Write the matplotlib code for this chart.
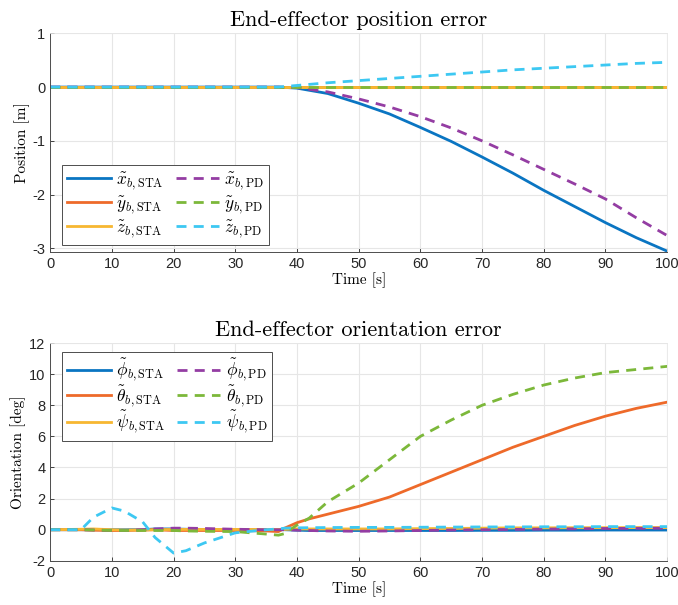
import matplotlib
matplotlib.use("Agg")
import matplotlib.pyplot as plt

# ---------------------------------------------------------
# Data (time in s)
# ---------------------------------------------------------
t_pos = [0, 10, 20, 30, 37, 40, 45, 50, 55, 60, 65, 70, 75, 80, 85, 90, 95, 100]
x_sta = [0, 0, 0, 0, 0, -0.02, -0.12, -0.30, -0.50, -0.75, -1.01, -1.30, -1.60, -1.92, -2.22, -2.52, -2.80, -3.05]
y_sta = [0] * len(t_pos)
z_sta = [0] * len(t_pos)
x_pd = [0, 0, 0, 0, 0, -0.01, -0.09, -0.22, -0.37, -0.55, -0.76, -1.00, -1.26, -1.53, -1.80, -2.08, -2.43, -2.76]
y_pd = [0] * len(t_pos)
z_pd = [0, 0, 0, 0, 0, 0.03, 0.08, 0.12, 0.16, 0.20, 0.24, 0.28, 0.32, 0.35, 0.38, 0.41, 0.44, 0.46]

t_ori = [0, 5, 7, 10, 12, 15, 17, 20, 22, 25, 30, 35, 37, 38, 40, 42, 45, 50, 55, 60,
         65, 70, 75, 80, 85, 90, 95, 100]
phi_sta = [0, 0, 0, 0, 0, 0, 0.05, 0.05, 0.03, 0.02, 0, 0, 0, 0, -0.03, -0.05, -0.05,
           -0.05, -0.05, -0.05, -0.05, -0.04, -0.04, -0.03, -0.03, -0.02, -0.02, -0.02]
theta_sta = [0, 0, -0.03, -0.05, -0.05, -0.02, 0, -0.05, -0.05, -0.05, -0.05, -0.08, -0.12, 0.10,
             0.45, 0.70, 1.00, 1.50, 2.10, 2.90, 3.70, 4.50, 5.30, 6.00, 6.70, 7.30, 7.80, 8.20]
psi_sta = [0, 0.03, 0.05, 0, -0.02, -0.02, 0, 0.02, 0.02, 0.02, 0.02, 0.02, 0.02, 0.02, 0.05,
           0.05, 0.05, 0.05, 0.05, 0.07, 0.08, 0.10, 0.12, 0.12, 0.13, 0.13, 0.14, 0.14]
phi_pd = [0, 0, -0.02, -0.05, -0.05, 0, 0.05, 0.10, 0.10, 0.08, 0.03, 0.0, 0.0, 0.0, -0.03,
          -0.05, -0.08, -0.10, -0.08, -0.05, -0.02, 0.0, 0.02, 0.04, 0.06, 0.08, 0.09, 0.10]
theta_pd = [0, 0, -0.02, -0.05, -0.05, -0.05, -0.05, -0.05, -0.08, -0.10, -0.12, -0.28, -0.35, -0.25,
            0.30, 0.75, 1.80, 3.00, 4.50, 6.00, 7.05, 8.00, 8.70, 9.30, 9.75, 10.10, 10.30, 10.50]
psi_pd = [0, 0, 0.80, 1.40, 1.20, 0.50, -0.50, -1.50, -1.35, -0.85, -0.20, 0.0, 0.05, 0.10,
          0.12, 0.13, 0.14, 0.15, 0.15, 0.16, 0.17, 0.18, 0.18, 0.19, 0.19, 0.20, 0.20, 0.20]

# MATLAB-like colour order (as rendered in the reference)
c_blue, c_orange, c_yellow = "#0A75C2", "#EE6A2A", "#F7B731"
c_purple, c_green, c_cyan = "#943DA3", "#7CB83A", "#3DC8F2"

plt.rcParams["mathtext.fontset"] = "cm"
plt.rcParams["font.family"] = ["Liberation Sans", "DejaVu Sans"]
plt.rcParams["axes.unicode_minus"] = False

lw = 2.0
dash = (3.6, 2.6)
serif = "cmr10"


def style_axes(ax):
    ax.grid(True, color="#e6e6e6", linewidth=0.8)
    ax.set_axisbelow(True)
    for side in ["left", "bottom"]:
        ax.spines[side].set_color("#4d4d4d")
        ax.spines[side].set_linewidth(0.7)
    for side in ["top", "right"]:
        ax.spines[side].set_color("#e6e6e6")
        ax.spines[side].set_linewidth(0.6)
    ax.tick_params(direction="in", length=3, width=0.6, labelsize=10.5,
                   colors="#262626", top=False, right=False)
    ax.set_xlim(0, 100)
    ax.set_xticks(range(0, 101, 10))


def style_legend(leg):
    leg.get_frame().set_edgecolor("#4d4d4d")
    leg.get_frame().set_linewidth(0.7)


leg_kw = dict(ncol=2, fontsize=12.5, handlelength=2.5, columnspacing=0.7,
              handletextpad=0.3, borderpad=0.3,
              borderaxespad=0.0, fancybox=False, framealpha=1)

fig = plt.figure(figsize=(6.78, 6.05), dpi=100)

# ---------------------------------------------------------
# Position error
# ---------------------------------------------------------
ax1 = fig.add_axes([0.074, 0.584, 0.910, 0.361])
ax1.plot(t_pos, x_sta, color=c_blue, lw=lw, label=r"$\tilde{x}_{b,\mathrm{STA}}$")
ax1.plot(t_pos, y_sta, color=c_orange, lw=lw, label=r"$\tilde{y}_{b,\mathrm{STA}}$")
ax1.plot(t_pos, z_sta, color=c_yellow, lw=lw, label=r"$\tilde{z}_{b,\mathrm{STA}}$")
ax1.plot(t_pos, x_pd, color=c_purple, lw=lw, dashes=dash, label=r"$\tilde{x}_{b,\mathrm{PD}}$")
ax1.plot(t_pos, y_pd, color=c_green, lw=lw, dashes=dash, label=r"$\tilde{y}_{b,\mathrm{PD}}$")
ax1.plot(t_pos, z_pd, color=c_cyan, lw=lw, dashes=dash, label=r"$\tilde{z}_{b,\mathrm{PD}}$")
style_axes(ax1)
ax1.set_ylim(-3.06, 1)
ax1.set_yticks([-3, -2, -1, 0, 1])
ax1.set_title("End-effector position error", fontfamily=serif, fontsize=16, pad=5)
ax1.set_xlabel("Time [s]", fontfamily=serif, fontsize=11, labelpad=1)
ax1.set_ylabel("Position [m]", fontfamily=serif, fontsize=11, labelpad=2)
leg1 = ax1.legend(loc="lower left", bbox_to_anchor=(0.019, 0.03), labelspacing=0.15, **leg_kw)
style_legend(leg1)

# ---------------------------------------------------------
# Orientation error
# ---------------------------------------------------------
ax2 = fig.add_axes([0.074, 0.073, 0.910, 0.360])
ax2.plot(t_ori, phi_sta, color=c_blue, lw=lw, label=r"$\tilde{\phi}_{b,\mathrm{STA}}$")
ax2.plot(t_ori, theta_sta, color=c_orange, lw=lw, label=r"$\tilde{\theta}_{b,\mathrm{STA}}$")
ax2.plot(t_ori, psi_sta, color=c_yellow, lw=lw, label=r"$\tilde{\psi}_{b,\mathrm{STA}}$")
ax2.plot(t_ori, phi_pd, color=c_purple, lw=lw, dashes=dash, label=r"$\tilde{\phi}_{b,\mathrm{PD}}$")
ax2.plot(t_ori, theta_pd, color=c_green, lw=lw, dashes=dash, label=r"$\tilde{\theta}_{b,\mathrm{PD}}$")
ax2.plot(t_ori, psi_pd, color=c_cyan, lw=lw, dashes=dash, label=r"$\tilde{\psi}_{b,\mathrm{PD}}$")
style_axes(ax2)
ax2.set_ylim(-2, 12)
ax2.set_yticks(range(-2, 13, 2))
ax2.set_title("End-effector orientation error", fontfamily=serif, fontsize=16, pad=5)
ax2.set_xlabel("Time [s]", fontfamily=serif, fontsize=11, labelpad=1)
ax2.set_ylabel("Orientation [deg]", fontfamily=serif, fontsize=11, labelpad=2)
leg2 = ax2.legend(loc="upper left", bbox_to_anchor=(0.019, 0.96), labelspacing=0.0, **leg_kw)
style_legend(leg2)

plt.savefig("out.png", dpi=100)
